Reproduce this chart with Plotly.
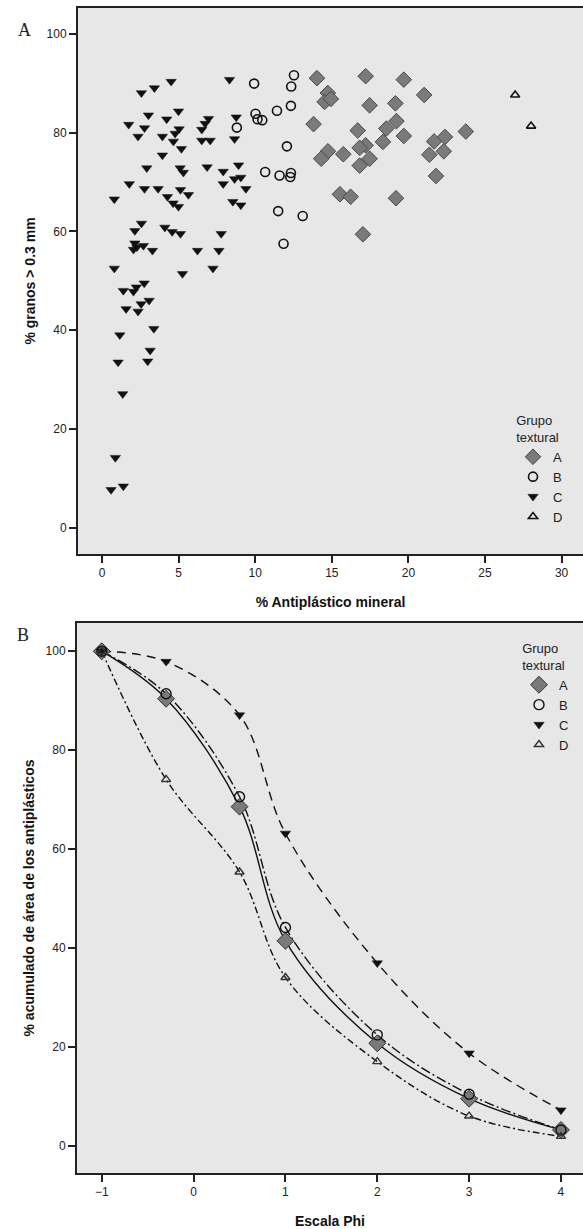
import plotly.graph_objects as go

# ---------------- Panel A data ----------------
a_x = [14.03, 17.21, 19.7, 14.74, 14.53, 14.94, 21.03, 17.47, 19.15, 13.81, 16.69, 18.56, 19.22, 19.7,
       23.75, 21.68, 22.39, 18.34, 17.21, 16.82, 14.75, 14.31, 15.75, 17.47, 16.82, 21.37, 22.31, 21.8,
       15.53, 16.23, 19.19, 17.03]
a_y = [91.0, 91.4, 90.7, 88.0, 86.2, 86.8, 87.6, 85.5, 85.9, 81.7, 80.4, 80.8, 82.3, 79.3,
       80.2, 78.2, 79.1, 78.1, 77.4, 76.9, 76.2, 74.7, 75.6, 74.7, 73.3, 75.5, 76.2, 71.2,
       67.5, 67.0, 66.7, 59.4]

b_x = [9.93, 10.02, 10.15, 10.46, 8.8, 11.42, 12.33, 12.35, 12.53, 12.07, 10.65, 11.59, 12.33, 12.29,
       11.5, 11.85, 13.1]
b_y = [89.9, 83.8, 82.7, 82.5, 81.0, 84.4, 85.4, 89.3, 91.6, 77.2, 72.0, 71.3, 71.8, 71.0,
       64.1, 57.5, 63.1]

c_x = [0.8, 1.74, 1.78, 2.35, 2.57, 2.77, 3.03, 2.92, 2.77, 3.42, 3.66, 3.94, 4.22, 4.51, 3.94, 4.27,
       4.64, 4.99, 4.66, 4.77, 5.03, 4.99, 5.18, 5.1, 5.31, 5.12, 5.64, 6.86, 6.51, 6.73, 6.95, 6.51,
       7.06, 7.91, 7.91, 8.32, 8.76, 8.65, 8.91, 8.65, 9.06, 9.39, 8.54, 9.06, 2.14, 2.57, 2.14, 2.27,
       2.05, 2.7, 3.29, 4.1, 4.58, 5.12, 6.23, 7.78, 7.63, 7.24, 5.25, 0.8, 1.39, 2.05, 2.24, 2.75,
       1.57, 2.35, 2.55, 3.07, 3.38, 1.16, 3.14, 1.05, 2.98, 1.35, 0.87, 0.59, 1.39]
c_y = [66.5, 81.6, 69.6, 79.2, 88.0, 80.9, 83.5, 72.8, 68.6, 89.0, 68.6, 79.2, 82.7, 90.3, 75.4, 67.0,
       65.7, 65.0, 78.2, 79.8, 80.7, 84.3, 76.7, 72.8, 71.9, 68.4, 67.4, 73.0, 80.6, 81.8, 82.8, 78.4,
       78.4, 72.1, 69.6, 90.7, 83.1, 78.7, 73.4, 70.6, 70.9, 68.6, 66.0, 65.3, 60.1, 61.6, 57.6, 56.8,
       56.3, 57.1, 56.1, 60.8, 59.9, 59.5, 56.1, 59.5, 56.1, 52.5, 51.4, 52.5, 48.0, 47.8, 48.7, 49.5,
       44.3, 43.8, 45.3, 46.0, 40.3, 39.0, 35.9, 33.5, 33.7, 27.1, 14.2, 7.7, 8.4]

d_x = [26.97, 28.01]
d_y = [87.6, 81.3]

# ---------------- Panel B data ----------------
phi = [-1, -0.3, 0.5, 1, 2, 3, 4]
cum_a = [100, 90.4, 68.6, 41.5, 20.8, 9.6, 3.3]
cum_b = [100, 91.4, 70.6, 44.2, 22.5, 10.5, 3.3]
cum_c = [100, 97.9, 87.1, 63.2, 37.0, 18.8, 7.3]
cum_d = [100, 74.1, 55.4, 34.1, 17.1, 6.1, 2.0]

groups = ["A", "B", "C", "D"]

W, H = 583, 1229
FONT = "Liberation Sans, Arial, sans-serif"
BG = "#e7e7e7"
AXC = "#222222"

def px_x(p):
    return p / W

def px_y(p):
    return 1 - p / H

fig = go.Figure()

styleA = {
    "A": dict(symbol="diamond", size=12, color="#7a7a7a", line=dict(color="#4a4a4a", width=1)),
    "B": dict(symbol="circle-open", size=9, color="#111111", line=dict(width=1.6)),
    "C": dict(symbol="triangle-down", size=9, color="#111111", line=dict(color="#111111", width=0.5)),
    "D": dict(symbol="triangle-up-open", size=8, color="#111111", line=dict(width=1.6)),
}

for g, xs, ys in zip(groups, [a_x, b_x, c_x, d_x], [a_y, b_y, c_y, d_y]):
    fig.add_trace(go.Scatter(x=xs, y=ys, mode="markers", name=g, marker=styleA[g],
                             xaxis="x", yaxis="y", legend="legend"))

dashes = {"A": "solid", "B": "10px,3px,2px,3px", "C": "9px,6px", "D": "7px,3px,2px,3px"}
styleB = {
    "A": dict(symbol="diamond", size=13, color="#7a7a7a", line=dict(color="#333333", width=1)),
    "B": dict(symbol="circle-open", size=10, color="#111111", line=dict(width=1.4)),
    "C": dict(symbol="triangle-down", size=9, color="#111111", line=dict(color="#111111", width=0.5)),
    "D": dict(symbol="triangle-up-open", size=8, color="#333333", line=dict(width=1.4)),
}
for g, ys in zip(groups, [cum_a, cum_b, cum_c, cum_d]):
    fig.add_trace(go.Scatter(x=phi, y=ys, mode="lines", showlegend=False,
                             line=dict(color="#111111", width=1.4, dash=dashes[g], shape="spline", smoothing=1.0),
                             xaxis="x2", yaxis="y2", hoverinfo="skip"))
for g, ys in zip(groups, [cum_a, cum_b, cum_c, cum_d]):
    fig.add_trace(go.Scatter(x=phi, y=ys, mode="markers", name=g, marker=styleB[g],
                             xaxis="x2", yaxis="y2", legend="legend2"))

axis_common = dict(showgrid=False, zeroline=False, showline=True, linecolor=AXC, linewidth=2,
                   ticks="outside", ticklen=7, tickwidth=2, tickcolor=AXC,
                   tickfont=dict(family=FONT, size=12, color="#222222"))

legend_common = dict(bgcolor="rgba(0,0,0,0)", borderwidth=0,
                     font=dict(family=FONT, size=13, color="#222222"),
                     title=dict(font=dict(family=FONT, size=13, color="#222222"), side="top center"),
                     itemwidth=30, tracegroupgap=0, indentation=6, xanchor="left", yanchor="top")

fig.update_layout(
    width=W, height=H,
    margin=dict(l=0, r=0, t=0, b=0),
    paper_bgcolor="white", plot_bgcolor=BG,
    xaxis=dict(domain=[px_x(78), 1], range=[-1.57, 31.4], tickvals=[0, 5, 10, 15, 20, 25, 30],
               title=dict(text="% Antiplástico mineral", font=dict(family=FONT, size=14, color="#111111", weight="bold"),
                          standoff=18),
               mirror=True, anchor="y", **axis_common),
    yaxis=dict(domain=[px_y(554), px_y(8)], range=[-5.3, 105.2], tickvals=[0, 20, 40, 60, 80, 100],
               title=dict(text="% granos > 0.3 mm", font=dict(family=FONT, size=14, color="#111111", weight="bold"),
                          standoff=8),
               anchor="x", **axis_common),
    xaxis2=dict(domain=[px_x(77), 1], range=[-1.27, 4.24], tickvals=[-1, 0, 1, 2, 3, 4],
                title=dict(text="Escala Phi", font=dict(family=FONT, size=14, color="#111111", weight="bold"),
                           standoff=18),
                mirror=True, anchor="y2", **axis_common),
    yaxis2=dict(domain=[px_y(1173), px_y(623)], range=[-5.4, 105.7], tickvals=[0, 20, 40, 60, 80, 100],
                title=dict(text="% acumulado de área de los antiplásticos",
                           font=dict(family=FONT, size=14, color="#111111", weight="bold"), standoff=8),
                anchor="x2", **axis_common),
    legend=dict(x=px_x(507), y=px_y(408), title_text="Grupo<br>textural", **legend_common),
    legend2=dict(x=px_x(513), y=px_y(636), title_text="Grupo<br>textural", **legend_common),
    annotations=[
        dict(text="A", x=px_x(16), y=px_y(18), xref="paper", yref="paper", showarrow=False,
             font=dict(family="Liberation Serif, Times New Roman, serif", size=18, color="#222222")),
        dict(text="B", x=px_x(15), y=px_y(635), xref="paper", yref="paper", showarrow=False,
             font=dict(family="Liberation Serif, Times New Roman, serif", size=18, color="#222222")),
    ],
    showlegend=True,
)

fig.write_html("out.html")
